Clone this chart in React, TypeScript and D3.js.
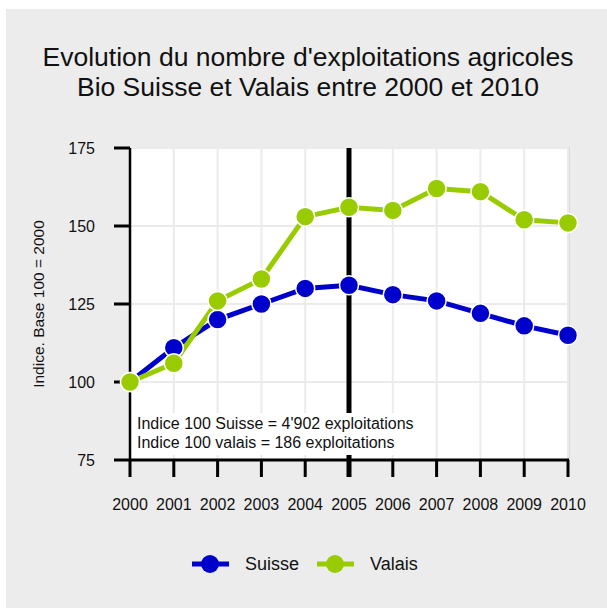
import React from 'react';
import * as d3 from 'd3';

const years = [2000, 2001, 2002, 2003, 2004, 2005, 2006, 2007, 2008, 2009, 2010];
const suisse = [100, 111, 120, 125, 130, 131, 128, 126, 122, 118, 115];
const valais = [100, 106, 126, 133, 153, 156, 155, 162, 161, 152, 151];
const yTicks = [75, 100, 125, 150, 175];
const markerYear = 2005;
const titleLines = ["Evolution du nombre d'exploitations agricoles", 'Bio Suisse et Valais entre 2000 et 2010'];
const notes = ["Indice 100 Suisse = 4'902 exploitations", 'Indice 100 valais = 186 exploitations'];

const W = 607;
const H = 608;
const FONT = '"Liberation Sans", Arial, sans-serif';
const BLUE = '#0000cc';
const GREEN = '#99cc00';

const x = d3.scaleLinear().domain([2000, 2010]).range([130, 568]);
const y = d3.scaleLinear().domain([75, 175]).range([460, 148]);

const series = [
  { name: 'Suisse', color: BLUE, values: suisse },
  { name: 'Valais', color: GREEN, values: valais },
];

const line = d3
  .line<number>()
  .x((d, i) => x(years[i]))
  .y(d => y(d));

const App = () => {
  const [top, bottom] = y.range();
  return (
    <svg
      width={W}
      height={H}
      style={{ position: 'absolute', left: 0, top: 0, fontFamily: FONT }}
    >
      <rect x={6} y={9} width={W - 6} height={H - 9} fill="#ececec" />

      {titleLines.map((t, i) => (
        <text key={t} x={308} y={66 + i * 30} textAnchor="middle" fontSize={26.5} fill="#111">
          {t}
        </text>
      ))}

      {/* plot area */}
      <rect x={130} y={bottom} width={439} height={top - bottom} fill="#fff" stroke="#c8c8c8" strokeWidth={1} />
      {years.map(yr => (
        <line key={yr} x1={x(yr)} x2={x(yr)} y1={bottom} y2={top} stroke="#ebebeb" strokeWidth={2} />
      ))}
      {yTicks.map(t => (
        <line key={t} x1={130} x2={568} y1={y(t)} y2={y(t)} stroke="#ebebeb" strokeWidth={2} />
      ))}

      {/* 2005 marker */}
      <line x1={x(markerYear)} x2={x(markerYear)} y1={bottom} y2={top + 17} stroke="#000" strokeWidth={5} />

      {/* annotation box */}
      <rect x={133} y={413} width={284} height={42} fill="#fff" />
      {notes.map((n, i) => (
        <text key={n} x={137} y={429 + i * 19} fontSize={16} fill="#111">
          {n}
        </text>
      ))}

      {/* axes */}
      <line x1={130} x2={130} y1={bottom} y2={top} stroke="#000" strokeWidth={2.5} />
      {yTicks.map(t => (
        <g key={t}>
          <line x1={114} x2={130} y1={y(t)} y2={y(t)} stroke="#000" strokeWidth={3} />
          <text x={95} y={y(t)} dy="0.35em" textAnchor="end" fontSize={16} fill="#111">
            {t}
          </text>
        </g>
      ))}
      <line x1={129} x2={569} y1={top} y2={top} stroke="#000" strokeWidth={3} />
      {years.map(yr => (
        <g key={yr}>
          <line x1={x(yr)} x2={x(yr)} y1={top} y2={top + 17} stroke="#000" strokeWidth={3} />
          <text x={x(yr)} y={510} textAnchor="middle" fontSize={16} fill="#111">
            {yr}
          </text>
        </g>
      ))}
      <text transform={`translate(44,${(top + bottom) / 2}) rotate(-90)`} textAnchor="middle" fontSize={15.5} fill="#111">
        Indice. Base 100 = 2000
      </text>

      {/* series */}
      {series.map(s => (
        <path key={s.name} d={line(s.values) || ''} fill="none" stroke={s.color} strokeWidth={5} />
      ))}
      {series.map(s => (
        <g key={s.name}>
          {s.values.map((v, i) => (
            <circle key={i} cx={x(years[i])} cy={y(v)} r={9.5} fill={s.color} stroke="#fff" strokeWidth={1.5} />
          ))}
        </g>
      ))}

      {/* legend */}
      {series.map((s, i) => {
        const lx = 192 + i * 125;
        return (
          <g key={s.name}>
            <line x1={lx} x2={lx + 37} y1={564} y2={564} stroke={s.color} strokeWidth={5} />
            <circle cx={lx + 18} cy={564} r={9} fill={s.color} />
            <text x={lx + 53} y={564} dy="0.35em" fontSize={18} fill="#111">
              {s.name}
            </text>
          </g>
        );
      })}
    </svg>
  );
};

export default App;
